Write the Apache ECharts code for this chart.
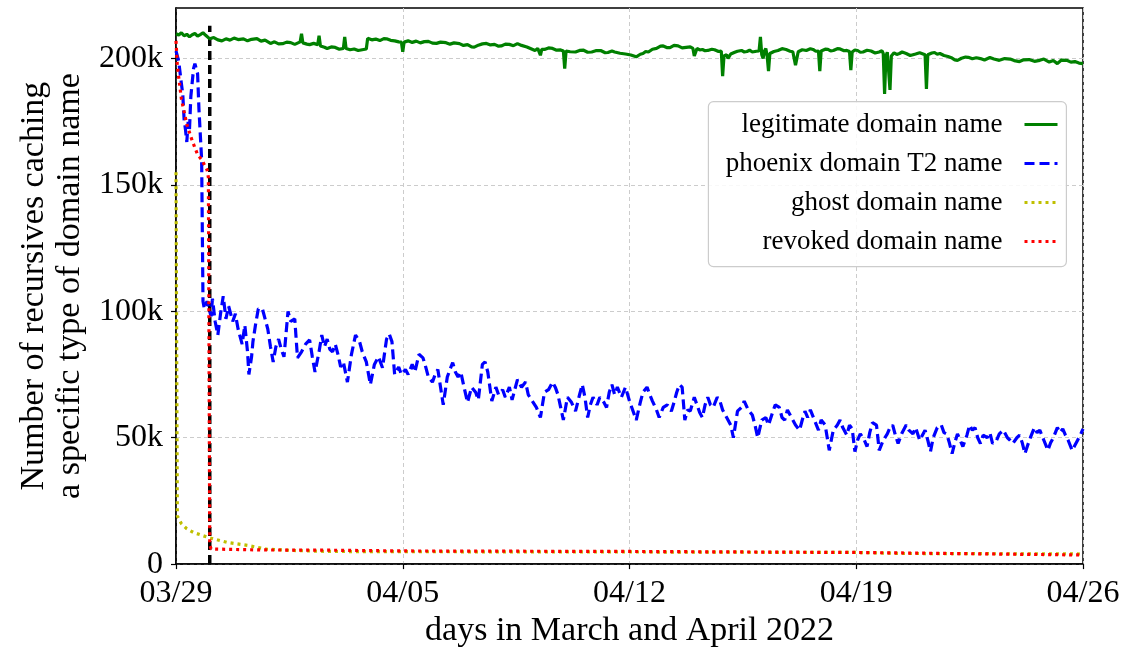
<!DOCTYPE html>
<html lang="en">
  <head>
    <meta charset="utf-8" />
    <title>Recursives caching domain names</title>
    <style>
      * {
        margin: 0;
        padding: 0;
      }
      #chart-container {
        position: relative;
        height: 100vh;
        width: 100vw;
        overflow: hidden;
        background: #fff;
      }
    </style>
  </head>
  <body>
    <div id="chart-container"></div>
    <script src="https://fastly.jsdelivr.net/npm/echarts@6/dist/echarts.min.js"></script>
    <script>
      // x = hours since 03/29 00:00, y = thousands of recursives
      const tickLabels = ["03/29", "04/05", "04/12", "04/19", "04/26"];
      const yTicks = [0, 50, 100, 150, 200];
      const cutoffHour = 25;
      const cutoffTop = 213;

      const legitimate = [
        [0, 209.8], [2, 209.3], [4, 210.2], [6, 209], [8, 209.6], [10, 208.6], [12, 209.4], [14, 209.9],
        [16, 208.9], [18, 209.5], [20, 210.2], [22, 209.2], [25, 207.8], [28, 208.3], [31, 207.4], [34, 207],
        [37, 207.8], [40, 207.3], [43, 208.1], [46, 207.5], [50, 207.8], [53, 207], [56, 207.6], [60, 207.9],
        [63, 206.9], [66, 207.3], [70, 206], [73, 206.6], [76, 205.8], [79, 205.9], [82, 206.5], [85, 206.3],
        [88, 205.6], [92, 206.6], [93, 209.8], [94, 206.2], [97, 205.7], [99, 205.5], [102, 206], [105, 205.5],
        [106, 209], [107, 205], [110, 204.5], [112, 204], [115, 204.6], [118, 204.4], [121, 203.7], [124, 204],
        [125, 208.6], [126, 204], [129, 203.5], [132, 203.8], [135, 203.2], [139, 203.6], [141, 203.8], [142, 208],
        [145, 207.4], [148, 207.7], [151, 207.1], [154, 207.9], [156, 207.8], [159, 207.2], [162, 207], [165, 206.6],
        [167, 206.5], [168, 202.7], [169, 206.5], [172, 207], [175, 206.4], [178, 206.9], [181, 206.2], [184, 206.7],
        [187, 206.8], [190, 206.1], [193, 206], [196, 206.5], [200, 206.3], [203, 205.7], [206, 206.2], [210, 205.9],
        [213, 205.2], [216, 205.5], [219, 204.6], [221, 204.5], [224, 205.3], [227, 205.8], [230, 206], [233, 205.4],
        [236, 205.6], [239, 204.9], [241, 205], [244, 205.7], [247, 205.6], [250, 205.1], [253, 205.9], [256, 205.2],
        [260, 204.6], [263, 203.9], [266, 203.2], [268, 204], [270, 201.3], [271, 203.6], [273, 203.6], [276, 204.2],
        [279, 204], [282, 203.3], [285, 203.4], [287, 203], [288, 196], [289, 203], [292, 202.7], [296, 202.6],
        [299, 203.2], [302, 203.3], [305, 202.5], [308, 202.6], [311, 203.1], [315, 203.1], [318, 202.3], [320, 202.4],
        [323, 203], [325, 202.6], [329, 202.1], [333, 201.8], [337, 201.4], [341, 200.7], [344, 201.7], [346, 202],
        [348, 202.8], [350, 202.6], [353, 203.7], [356, 204], [359, 204.9], [361, 205], [364, 204.3], [366, 204.3],
        [369, 205.2], [372, 205], [375, 204.2], [378, 204.4], [381, 204.6], [383, 204], [384, 201], [386, 204],
        [388, 203.4], [390, 203.6], [392, 203.1], [394, 203.2], [397, 203.7], [399, 203.5], [402, 202.8], [404, 203],
        [405, 193], [406, 201], [408, 201.5], [409, 200], [411, 201.8], [414, 202.5], [416, 202.9], [419, 203.2],
        [421, 202.6], [423, 202.8], [425, 203.3], [427, 202.6], [430, 202.9], [432, 203], [433, 208.6], [434, 201.5],
        [435, 200], [436, 203], [437, 204], [438, 201], [439, 195], [440, 202], [443, 202.8], [446, 203.2],
        [449, 203.9], [452, 203.6], [455, 202.9], [457, 202.7], [459, 197.4], [461, 202.7], [464, 203.5], [467, 203.2],
        [470, 203.9], [472, 203.6], [474, 202.9], [476, 203], [477, 195], [478, 203], [481, 203.7], [483, 203.6],
        [485, 203], [487, 203.2], [490, 203.9], [492, 203.8], [495, 203.1], [497, 203.2], [499, 202.8], [500, 195.4],
        [501, 202.6], [503, 203.4], [505, 203.2], [507, 202.5], [509, 202.6], [512, 203.3], [515, 203], [518, 202.2],
        [521, 202.6], [523, 203.1], [524, 202], [525, 186], [526, 201], [527, 202.5], [528, 202], [529, 187.6],
        [530, 201], [532, 202.3], [534, 201.6], [536, 202], [538, 202.6], [541, 202], [544, 201.2], [548, 201.8],
        [551, 202.3], [555, 201.5], [556, 188], [557, 201.5], [560, 202.2], [562, 202.4], [564, 201.7], [566, 202],
        [569, 201.2], [572, 200.8], [575, 200.2], [577, 199.5], [579, 199.3], [582, 200.1], [585, 200.6], [587, 200.5],
        [590, 199.9], [593, 200.3], [596, 200], [599, 199.4], [603, 200.4], [606, 199.8], [610, 199.3], [614, 200],
        [618, 199.8], [621, 199.2], [625, 198.8], [628, 199.5], [632, 199.6], [636, 198.9], [640, 199.3], [643, 199.8],
        [647, 198.6], [650, 199.2], [653, 198], [656, 199.4], [660, 199.3], [663, 198.6], [666, 198.8], [669, 198.2],
        [672, 198]
      ];

      const phoenix = [
        [0, 203], [2, 199], [4, 190], [5, 186], [6, 176], [7, 172], [8, 167], [9, 175], [10, 172], [11, 185],
        [13, 196], [14, 198], [16, 194], [17, 180], [19, 160], [20, 104], [21, 101], [23, 104], [24, 102], [26, 98],
        [27, 105], [29, 96], [31, 90.6], [33, 99], [35, 106], [37, 97], [39, 102], [42, 96], [44, 99], [46, 93],
        [49, 87], [51, 94.5], [53, 84], [54, 75], [56, 82], [57, 88], [59, 95], [61, 101], [64, 101], [66, 97],
        [68, 93], [70, 86], [72, 80], [74, 86], [76, 89], [78, 85], [80, 82], [83, 100], [85, 96], [88, 97],
        [90, 81.6], [93, 84], [96, 87], [99, 88.7], [101, 82], [103, 76], [106, 84], [108, 90.6], [110, 86], [112, 89],
        [114, 85], [116, 84], [118, 87], [120, 83], [122, 78], [124, 80], [127, 72], [130, 83], [133, 90.6], [136, 88],
        [138, 84], [141, 80], [144, 71], [147, 79], [150, 82], [153, 77.7], [156, 89], [158, 91], [160, 88], [162, 75],
        [165, 78], [167, 75], [170, 77], [172, 75], [175, 79], [177, 76], [180, 83], [183, 81.6], [185, 78], [187, 74],
        [190, 72], [192, 75], [194, 77], [196, 70], [198, 63], [201, 74], [203, 77], [205, 79.7], [207, 76], [209, 74],
        [211, 76], [213, 71], [216, 64], [219, 70], [222, 68], [224, 65], [227, 79], [229, 80], [231, 76], [234, 64.5],
        [237, 70], [239, 67], [242, 69], [244, 66], [247, 70], [249, 65], [251, 69], [253, 73], [256, 70], [259, 72],
        [261, 67], [264, 64.5], [267, 62], [270, 58], [273, 68], [276, 69], [279, 72], [281, 70], [283, 67], [285, 62],
        [287, 57], [290, 66], [293, 64], [296, 60.5], [299, 67], [301, 71], [303, 66], [305, 58], [307, 63], [309, 66],
        [312, 63], [314, 66], [317, 64], [319, 62], [321, 68], [323, 71], [325, 67], [327, 70], [330, 66], [333, 70],
        [336, 64.5], [339, 60], [341, 57], [344, 64], [346, 68], [349, 70], [351, 67], [353, 64.5], [356, 61], [358, 58],
        [361, 62], [364, 63], [367, 60.5], [369, 64], [371, 68], [373, 71], [375, 70], [377, 57], [379, 61], [381, 60.5],
        [384, 66], [386, 63], [388, 60], [390, 58], [392, 63], [394, 66], [396, 63], [398, 62], [401, 66], [403, 64.5],
        [405, 61], [408, 58], [411, 55], [413, 50], [416, 60.5], [419, 62], [421, 64.5], [424, 61], [427, 59], [429, 55],
        [431, 50], [434, 57], [437, 58], [439, 55], [442, 60], [444, 63], [447, 62], [449, 58], [451, 57], [453, 61],
        [456, 58], [459, 55], [462, 53], [464, 57], [466, 60.5], [468, 58], [470, 61], [473, 57], [476, 53], [478, 57],
        [481, 55], [484, 45], [487, 53], [490, 55], [492, 57], [494, 54], [497, 51], [499, 55], [501, 53.5], [503, 44.5],
        [505, 49], [507, 51.5], [510, 49], [512, 46.5], [514, 52], [516, 56], [519, 55], [521, 45], [524, 49], [527, 51.5],
        [529, 54], [531, 55], [533, 51], [535, 47.7], [538, 52], [541, 55], [543, 53], [546, 51.5], [548, 54], [551, 49],
        [553, 51], [555, 53], [557, 49], [559, 44.5], [561, 50], [564, 54], [567, 55], [569, 52], [571, 51.5], [573, 48],
        [575, 43.7], [577, 48], [579, 51.5], [581, 49], [583, 46.5], [586, 51], [588, 55], [590, 53], [592, 54], [594, 50],
        [596, 47.7], [598, 51], [601, 50], [603, 52], [605, 47.7], [608, 49], [610, 51.5], [613, 53], [616, 50], [618, 49],
        [620, 47.7], [623, 50], [625, 51], [627, 48], [629, 43.7], [631, 47], [633, 50], [636, 54], [638, 52], [640, 53],
        [643, 49], [646, 45], [648, 48], [650, 50], [653, 54], [655, 52], [657, 53.5], [659, 51], [661, 49], [664, 45],
        [666, 47], [668, 49], [670, 51], [672, 53.5]
      ];

      const ghost = [
        [0, 155], [1, 19], [4, 16], [8, 14], [13, 12.5], [24, 10.5], [38, 8.6], [53, 7.4],
        [67, 5.9], [87, 5.4], [112, 5.0], [168, 4.9], [336, 4.8], [504, 4.6], [540, 4.2], [672, 4.0]
      ];

      const revoked = [
        [0, 207], [1, 197], [4, 184], [8, 174], [12, 167.5], [16, 162], [19, 160], [23, 156],
        [24, 153], [25, 7.4], [26, 6], [33, 5.9], [62, 5.6], [114, 5.5], [168, 5.2], [336, 5.0],
        [504, 4.6], [573, 4.2], [672, 3.6]
      ];

      const serif = "Liberation Serif";
      const dotted = [3, 4];
      const dashed = [10, 5];

      const seriesDefs = [
        { name: "legitimate domain name", data: legitimate, color: "#008000", type: "solid" },
        { name: "phoenix domain T2 name", data: phoenix, color: "#0000ff", type: dashed },
        { name: "ghost domain name", data: ghost, color: "#bfbf00", type: dotted },
        { name: "revoked domain name", data: revoked, color: "#ff0000", type: dotted },
      ];

      const dom = document.getElementById("chart-container");
      const myChart = echarts.init(dom, null, { renderer: "canvas" });

      const series = [
        {
          name: "cutoff",
          type: "line",
          data: [[cutoffHour, 0], [cutoffHour, cutoffTop]],
          symbol: "none",
          lineStyle: { color: "#000", width: 3.5, type: [9, 5] },
          z: 1,
          silent: true,
        },
      ].concat(
        seriesDefs.map((s, i) => ({
          name: s.name,
          type: "line",
          data: s.data,
          symbol: "none",
          sampling: null,
          color: s.color,
          lineStyle: { color: s.color, width: 3.2, type: s.type },
          z: 2 + i,
        }))
      );

      const legendRowTop = [106, 145, 184, 223];
      const legends = seriesDefs.map((s, i) => ({
        data: [s.name],
        right: 60,
        top: legendRowTop[i],
        orient: "vertical",
        align: "right",
        itemWidth: 33,
        itemHeight: 14,
        itemStyle: { opacity: 0 },
        lineStyle: { width: 3 },
        textStyle: {
          fontFamily: serif,
          fontSize: 27,
          color: "#000",
          padding: [0, 17, 0, 0],
        },
        z: 20,
      }));

      const option = {
        animation: false,
        backgroundColor: "#fff",
        grid: {
          left: 176,
          right: 41,
          top: 8,
          bottom: 81,
          show: true,
          borderColor: "#000",
          borderWidth: 1.5,
        },
        legend: legends,
        graphic: [
          {
            type: "rect",
            right: 57,
            top: 101,
            z: 15,
            shape: { width: 358, height: 165, r: 5 },
            style: { fill: "rgba(255,255,255,0.85)", stroke: "#cccccc", lineWidth: 1.2 },
          },
        ],
        xAxis: {
          type: "value",
          min: 0,
          max: 672,
          interval: 168,
          name: "days in March and April 2022",
          nameLocation: "middle",
          nameGap: 47,
          nameTextStyle: { fontFamily: serif, fontSize: 34, color: "#000" },
          axisLine: { show: true, lineStyle: { color: "#000", width: 1.5 } },
          axisTick: { show: true, length: 5, lineStyle: { color: "#000", width: 1.2 } },
          axisLabel: {
            fontFamily: serif,
            fontSize: 32,
            color: "#000",
            margin: 13,
            formatter: (v) => tickLabels[Math.round(v / 168)],
          },
          splitLine: { show: true, lineStyle: { color: "#cccccc", type: [4, 3], width: 1 } },
        },
        yAxis: {
          type: "value",
          min: 0,
          max: 220,
          interval: 50,
          name: "Number of recursives caching\na specific type of domain name",
          nameLocation: "middle",
          nameGap: 72,
          nameTextStyle: { fontFamily: serif, fontSize: 34, color: "#000", lineHeight: 36 },
          axisLine: { show: true, lineStyle: { color: "#000", width: 1.5 } },
          axisTick: {
            show: true,
            length: 5,
            customValues: yTicks,
            lineStyle: { color: "#000", width: 1.2 },
          },
          axisLabel: {
            fontFamily: serif,
            fontSize: 32,
            color: "#000",
            margin: 13,
            customValues: yTicks,
            formatter: (v) => (v === 0 ? "0" : v + "k"),
          },
          splitLine: { show: true, lineStyle: { color: "#cccccc", type: [4, 3], width: 1 } },
        },
        series: series,
      };

      myChart.setOption(option);
      window.addEventListener("resize", myChart.resize);
    </script>
  </body>
</html>
